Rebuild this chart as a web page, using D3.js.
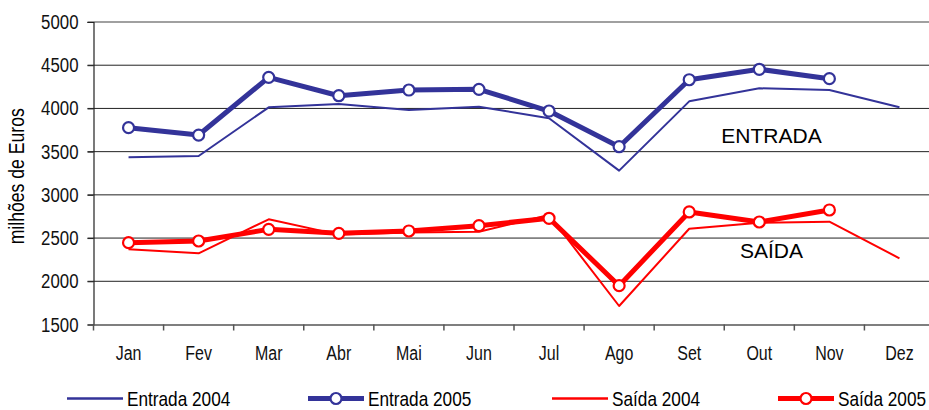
<html>
<head>
<style>
    body { margin: 0; background: #ffffff; }
    text { font-family: "Liberation Sans", Arial, sans-serif; }
</style>
</head>
<body>
<svg id="chart" width="929" height="410"></svg>
<script src="https://cdn.jsdelivr.net/npm/d3@7"></script>
<script>
    // data
    let months = ["Jan", "Fev", "Mar", "Abr", "Mai", "Jun", "Jul", "Ago", "Set", "Out", "Nov", "Dez"]
    let entrada2004 = [3435, 3450, 4013, 4050, 3982, 4020, 3886, 3280, 4082, 4233, 4213, 4013]
    let entrada2005 = [3777, 3692, 4360, 4147, 4213, 4221, 3970, 3557, 4332, 4453, 4344, null]
    let saida2004 = [2370, 2324, 2717, 2540, 2565, 2574, 2767, 1714, 2608, 2678, 2690, 2266]
    let saida2005 = [2447, 2466, 2601, 2555, 2582, 2643, 2729, 1949, 2802, 2686, 2825, null]
    let yTicks = [1500, 2000, 2500, 3000, 3500, 4000, 4500, 5000]

    let blue = "#333399"
    let red = "#ff0000"
    // no narrow face installed, so squeeze the regular one
    let squeeze = "scale(0.82,1)"

    let svg = d3.select("#chart")
    let plotLeft = 93.5, plotRight = 934.5, plotTop = 22, plotBottom = 324.5

    let xScale = d3.scaleBand()
        .domain(months)
        .range([plotLeft, plotRight])

    let yScale = d3.scaleLinear()
        .domain([1500, 5000])
        .range([plotBottom, plotTop])

    // gridlines
    svg.append("g")
        .selectAll("line")
        .data(yTicks.slice(1))
        .enter()
        .append("line")
        .attr("x1", plotLeft - 6)
        .attr("x2", plotRight)
        .attr("y1", d => yScale(d))
        .attr("y2", d => yScale(d))
        .attr("stroke", d => d == 5000 ? "#808080" : "#222")
        .attr("stroke-width", d => d == 5000 ? 1.5 : 1)

    // y axis
    let yAxis = svg.append("g")
        .attr("transform", "translate(" + plotLeft + ",0)")
        .call(d3.axisLeft(yScale).tickValues(yTicks).tickFormat(d3.format("d")).tickSize(6))
    yAxis.selectAll("text")
        .attr("x", 0)
        .attr("transform", "translate(-15,0) " + squeeze)
        .attr("font-size", 20.5)
        .attr("fill", "#111")
    yAxis.selectAll("line").attr("stroke", "#222")
    yAxis.select(".domain").attr("stroke", "#222").attr("stroke-width", 1.2)

    // x axis with ticks between categories
    let xAxis = svg.append("g")
        .attr("transform", "translate(0," + plotBottom + ")")
        .call(d3.axisBottom(xScale).tickSize(0).tickPadding(22))
    xAxis.select(".domain").attr("stroke", "#555").attr("stroke-width", 1.5)
    xAxis.selectAll("text")
        .attr("transform", squeeze)
        .attr("font-size", 19.5)
        .attr("fill", "#111")
    xAxis.selectAll(".sep")
        .data(months)
        .enter()
        .append("line")
        .attr("x1", d => xScale(d))
        .attr("x2", d => xScale(d))
        .attr("y1", 0)
        .attr("y2", 6)
        .attr("stroke", "#555")
        .attr("stroke-width", 1.5)

    // y label
    svg.append("text")
        .attr("font-size", 21.5)
        .attr("transform", "translate(24," + ((plotTop + plotBottom) / 2 + 3) + ") rotate(-90) " + squeeze)
        .attr("text-anchor", "middle")
        .attr("fill", "#000")
        .text("milhões de Euros")

    let cx = d => xScale(d) + xScale.bandwidth() / 2

    function drawLine(values, color, width) {
        let line = d3.line()
            .defined(d => d[1] != null)
            .x(d => cx(d[0]))
            .y(d => yScale(d[1]))
        svg.append("path")
            .datum(months.map((m, i) => [m, values[i]]))
            .attr("d", line)
            .attr("fill", "none")
            .attr("stroke", color)
            .attr("stroke-width", width)
            .attr("stroke-linejoin", "round")
    }

    function drawMarkers(values, color) {
        svg.append("g")
            .selectAll("circle")
            .data(months.map((m, i) => [m, values[i]]).filter(d => d[1] != null))
            .enter()
            .append("circle")
            .attr("cx", d => cx(d[0]))
            .attr("cy", d => yScale(d[1]))
            .attr("r", 5.5)
            .attr("fill", "#fff")
            .attr("stroke", color)
            .attr("stroke-width", 2.2)
    }

    drawLine(entrada2004, blue, 2)
    drawLine(saida2004, red, 2)
    drawLine(entrada2005, blue, 5)
    drawLine(saida2005, red, 5)
    drawMarkers(entrada2005, blue)
    drawMarkers(saida2005, red)

    // labels in plot
    svg.append("text")
        .attr("font-size", 21)
        .attr("x", 771.5)
        .attr("y", 142.5)
        .attr("text-anchor", "middle")
        .text("ENTRADA")
    svg.append("text")
        .attr("font-size", 21)
        .attr("x", 771.5)
        .attr("y", 258)
        .attr("text-anchor", "middle")
        .text("SAÍDA")

    // legend
    let legend = [
        { name: "Entrada 2004", color: blue, width: 2.5, marker: false, x: 67 },
        { name: "Entrada 2005", color: blue, width: 5, marker: true, x: 308 },
        { name: "Saída 2004", color: red, width: 2.5, marker: false, x: 552 },
        { name: "Saída 2005", color: red, width: 5, marker: true, x: 778 }
    ]
    let ly = 398.5
    let items = svg.append("g").selectAll("g")
        .data(legend)
        .enter()
        .append("g")
        .attr("transform", d => "translate(" + d.x + "," + ly + ")")
    items.append("line")
        .attr("x1", 0).attr("x2", 56)
        .attr("stroke", d => d.color)
        .attr("stroke-width", d => d.width)
    items.filter(d => d.marker)
        .append("circle")
        .attr("cx", 28).attr("r", 5.5)
        .attr("fill", "#fff")
        .attr("stroke", d => d.color)
        .attr("stroke-width", 2.2)
    items.append("text")
        .attr("font-size", 21)
        .attr("transform", "translate(60,7.5) " + squeeze)
        .attr("fill", "#000")
        .text(d => d.name)
</script>
</body>
</html>
